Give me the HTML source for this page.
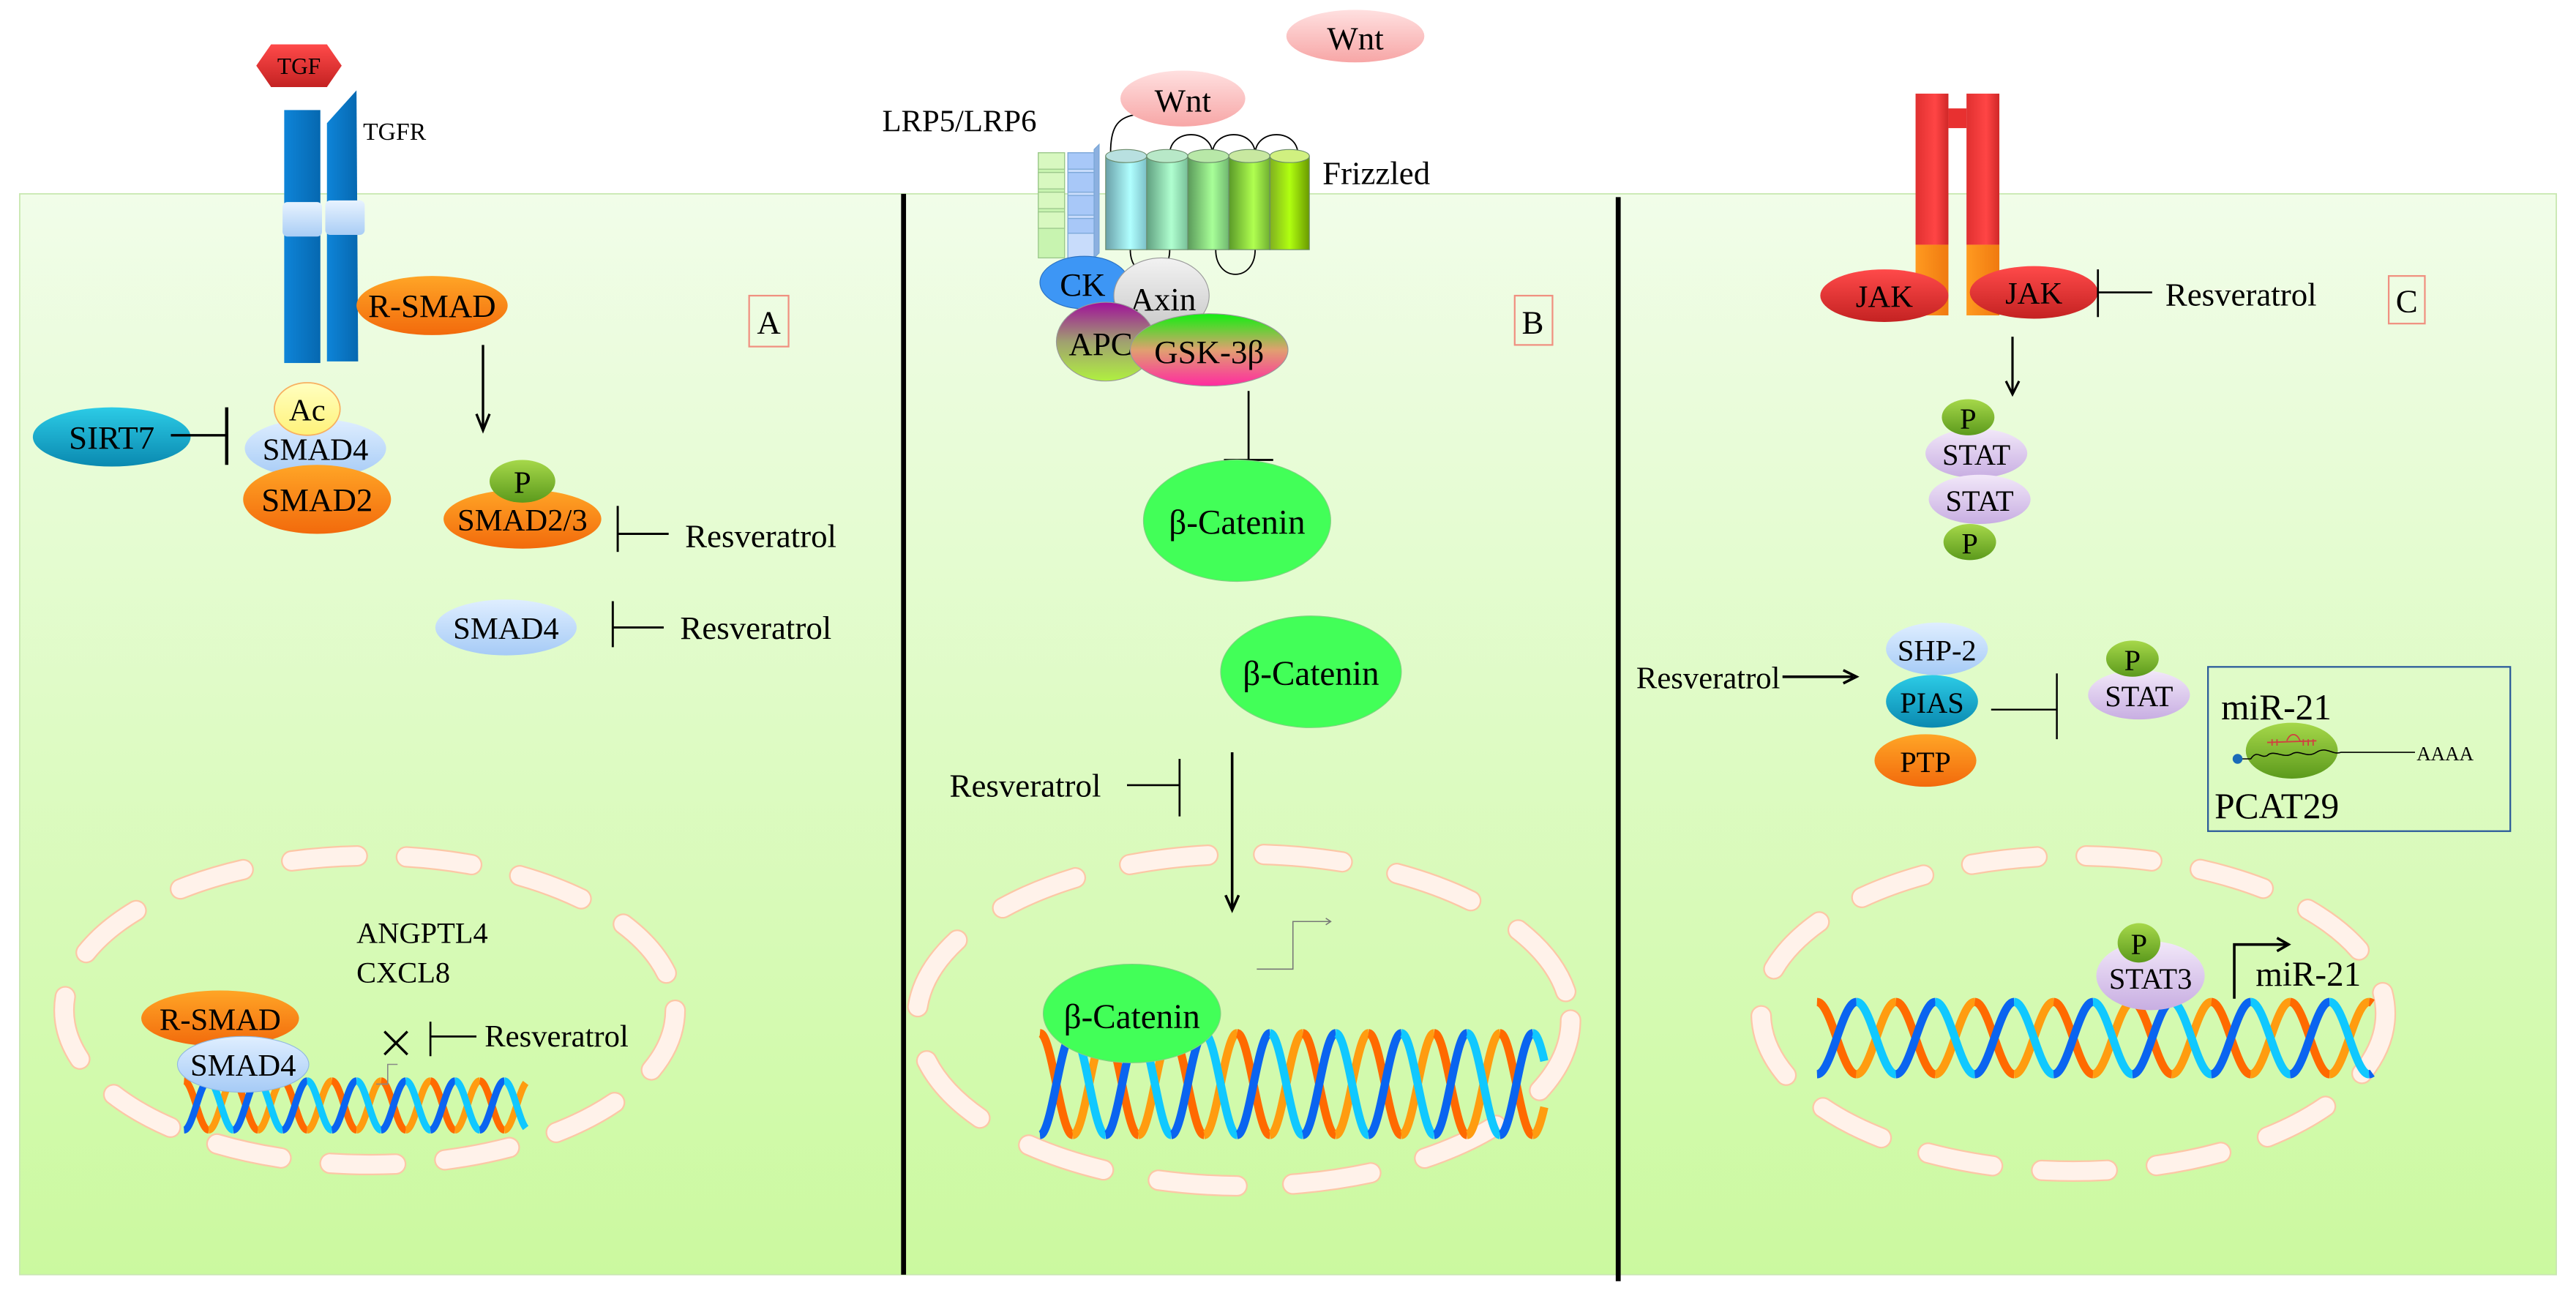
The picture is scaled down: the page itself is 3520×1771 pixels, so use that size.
<!DOCTYPE html>
<html><head><meta charset="utf-8"><style>
html,body{margin:0;padding:0;background:#fff;}
svg{display:block;}
text{font-family:"Liberation Serif",serif;fill:#000;}
</style></head><body>
<svg id="s" width="3520" height="1771" viewBox="0 0 1568 789" preserveAspectRatio="none" xmlns="http://www.w3.org/2000/svg">
<defs>
<linearGradient id="bg" x1="0" y1="0" x2="0" y2="1"><stop offset="0" stop-color="#f1fde9"/><stop offset="1" stop-color="#cbf99f"/></linearGradient>
<linearGradient id="or" x1="0" y1="0" x2="0" y2="1"><stop offset="0" stop-color="#ffa526"/><stop offset="1" stop-color="#f26a0c"/></linearGradient>
<linearGradient id="lb" x1="0" y1="0" x2="0" y2="1"><stop offset="0" stop-color="#dfeeff"/><stop offset="1" stop-color="#a6cbf6"/></linearGradient>
<linearGradient id="gp" x1="0" y1="0" x2="0" y2="1"><stop offset="0" stop-color="#a6d84a"/><stop offset="1" stop-color="#5c9a1c"/></linearGradient>
<linearGradient id="lv" x1="0" y1="0" x2="0" y2="1"><stop offset="0" stop-color="#f2e8f9"/><stop offset="1" stop-color="#c8aee2"/></linearGradient>
<linearGradient id="rd" x1="0" y1="0" x2="0" y2="1"><stop offset="0" stop-color="#ff4a4a"/><stop offset="1" stop-color="#c42222"/></linearGradient>
<linearGradient id="tl" x1="0" y1="0" x2="0" y2="1"><stop offset="0" stop-color="#2ccbe6"/><stop offset="1" stop-color="#0a89b0"/></linearGradient>
<linearGradient id="yl" x1="0" y1="0" x2="0" y2="1"><stop offset="0" stop-color="#ffffc0"/><stop offset="1" stop-color="#fff27a"/></linearGradient>
<linearGradient id="pk" x1="0" y1="0" x2="0" y2="1"><stop offset="0" stop-color="#ffe0e0"/><stop offset="1" stop-color="#f7a6a6"/></linearGradient>
<linearGradient id="ax" x1="0" y1="0" x2="0" y2="1"><stop offset="0" stop-color="#f2f2f2"/><stop offset="1" stop-color="#c8c8c8"/></linearGradient>
<linearGradient id="apc" x1="0" y1="0" x2="0" y2="1"><stop offset="0" stop-color="#a0109a"/><stop offset="0.5" stop-color="#a0a070"/><stop offset="1" stop-color="#b0f040"/></linearGradient>
<linearGradient id="gsk" x1="0" y1="0" x2="0" y2="1"><stop offset="0" stop-color="#10f010"/><stop offset="0.5" stop-color="#e0a070"/><stop offset="1" stop-color="#ff2aa0"/></linearGradient>
<linearGradient id="tb" x1="0" y1="0" x2="1" y2="0"><stop offset="0" stop-color="#0e84d8"/><stop offset="1" stop-color="#0668b0"/></linearGradient>
<linearGradient id="cy" x1="0" y1="0" x2="0" y2="1"><stop offset="0" stop-color="#e8f3ff"/><stop offset="1" stop-color="#a9cdf5"/></linearGradient>
<linearGradient id="c1" x1="0" y1="0" x2="1" y2="0"><stop offset="0" stop-color="#6aa0a8"/><stop offset="0.6" stop-color="#b0ffff"/><stop offset="1" stop-color="#7cc0c8"/></linearGradient>
<linearGradient id="c2" x1="0" y1="0" x2="1" y2="0"><stop offset="0" stop-color="#60a080"/><stop offset="0.6" stop-color="#b0ffd0"/><stop offset="1" stop-color="#78c098"/></linearGradient>
<linearGradient id="c3" x1="0" y1="0" x2="1" y2="0"><stop offset="0" stop-color="#5a9a5a"/><stop offset="0.6" stop-color="#a8ff98"/><stop offset="1" stop-color="#70b870"/></linearGradient>
<linearGradient id="c4" x1="0" y1="0" x2="1" y2="0"><stop offset="0" stop-color="#5a9a28"/><stop offset="0.6" stop-color="#b0ff50"/><stop offset="1" stop-color="#70b030"/></linearGradient>
<linearGradient id="c5" x1="0" y1="0" x2="1" y2="0"><stop offset="0" stop-color="#80b020"/><stop offset="0.5" stop-color="#b0ff10"/><stop offset="1" stop-color="#6a9a00"/></linearGradient>
<linearGradient id="rr" x1="0" y1="0" x2="1" y2="0"><stop offset="0" stop-color="#e03030"/><stop offset="0.6" stop-color="#ff4545"/><stop offset="1" stop-color="#d02828"/></linearGradient>
<linearGradient id="oo" x1="0" y1="0" x2="1" y2="0"><stop offset="0" stop-color="#ff9a20"/><stop offset="1" stop-color="#f07a10"/></linearGradient>
</defs>
<rect x="12" y="118" width="1544" height="658" fill="url(#bg)" stroke="#c8e8b0" stroke-width="0.8"/>
<line x1="550" y1="118" x2="550" y2="776" stroke="#000" stroke-width="3"/>
<line x1="985" y1="120" x2="985" y2="780" stroke="#000" stroke-width="3"/>

<!-- nuclei -->
<g fill="none" stroke-linecap="round">
<ellipse cx="225" cy="615" rx="186" ry="94" stroke="#fcc7a6" stroke-width="13" stroke-dasharray="40 30"/>
<ellipse cx="225" cy="615" rx="186" ry="94" stroke="#fff2ea" stroke-width="11" stroke-dasharray="40 30"/>
<ellipse cx="757" cy="621" rx="199" ry="101" stroke="#fcc7a6" stroke-width="13" stroke-dasharray="48 34"/>
<ellipse cx="757" cy="621" rx="199" ry="101" stroke="#fff2ea" stroke-width="11" stroke-dasharray="48 34"/>
<ellipse cx="1262" cy="617" rx="190" ry="96" stroke="#fcc7a6" stroke-width="13" stroke-dasharray="40 30"/>
<ellipse cx="1262" cy="617" rx="190" ry="96" stroke="#fff2ea" stroke-width="11" stroke-dasharray="40 30"/>
</g>
<g id="dna"></g>

<!-- Panel A -->
<polygon points="156,40 165,27 199,27 208,40 199,53 165,53" fill="url(#rd)"/>
<text x="182" y="45" font-size="14" text-anchor="middle">TGF</text>
<rect x="173" y="67" width="22" height="154" fill="url(#tb)"/>
<polygon points="199,75 217,55 218,220 199,220" fill="url(#tb)"/>
<rect x="172" y="123" width="24" height="21" rx="3" fill="url(#cy)"/>
<rect x="198" y="122" width="24" height="21" rx="3" fill="url(#cy)"/>
<text x="221" y="85" font-size="15">TGFR</text>
<ellipse cx="263" cy="186" rx="46" ry="18" fill="url(#or)"/>
<text x="263" y="193" font-size="20" text-anchor="middle">R-SMAD</text>
<line x1="294" y1="210" x2="294" y2="260" stroke="#000" stroke-width="1.5"/>
<path d="M290,252 L294,262 L298,252" fill="none" stroke="#000" stroke-width="1.5"/>
<rect x="456" y="180" width="24" height="31" fill="none" stroke="#f09080" stroke-width="1"/>
<text x="468" y="203" font-size="20" text-anchor="middle">A</text>
<ellipse cx="68" cy="266" rx="48" ry="18" fill="url(#tl)"/>
<text x="68" y="273" font-size="20" text-anchor="middle">SIRT7</text>
<line x1="104" y1="265" x2="138" y2="265" stroke="#000" stroke-width="1.5"/>
<line x1="138" y1="248" x2="138" y2="283" stroke="#000" stroke-width="2"/>
<ellipse cx="192" cy="273" rx="43" ry="18" fill="url(#lb)"/>
<ellipse cx="187" cy="249" rx="20" ry="16" fill="url(#yl)" stroke="#f8b060" stroke-width="0.8"/>
<text x="187" y="256" font-size="19" text-anchor="middle">Ac</text>
<text x="192" y="280" font-size="19" text-anchor="middle">SMAD4</text>
<ellipse cx="193" cy="304" rx="45" ry="21" fill="url(#or)"/>
<text x="193" y="311" font-size="20" text-anchor="middle">SMAD2</text>
<ellipse cx="318" cy="316" rx="48" ry="18" fill="url(#or)"/>
<ellipse cx="318" cy="293" rx="20" ry="13" fill="url(#gp)"/>
<text x="318" y="300" font-size="19" text-anchor="middle">P</text>
<text x="318" y="323" font-size="19" text-anchor="middle">SMAD2/3</text>
<line x1="376" y1="308" x2="376" y2="336" stroke="#000" stroke-width="1.3"/>
<line x1="376" y1="325" x2="407" y2="325" stroke="#000" stroke-width="1.3"/>
<text x="417" y="333" font-size="20">Resveratrol</text>
<ellipse cx="308" cy="382" rx="43" ry="17" fill="url(#lb)"/>
<text x="308" y="389" font-size="19" text-anchor="middle">SMAD4</text>
<line x1="373" y1="366" x2="373" y2="394" stroke="#000" stroke-width="1.3"/>
<line x1="373" y1="382" x2="404" y2="382" stroke="#000" stroke-width="1.3"/>
<text x="414" y="389" font-size="20">Resveratrol</text>
<text x="217" y="574" font-size="18">ANGPTL4</text>
<text x="217" y="598" font-size="18">CXCL8</text>
<path d="M229,660 L236,660 L236,648 L242,648" fill="none" stroke="#888" stroke-width="0.7"/>
<path d="M234,628 L248,642 M248,628 L234,642" stroke="#000" stroke-width="1.5"/>
<line x1="262" y1="622" x2="262" y2="643" stroke="#000" stroke-width="1.2"/>
<line x1="262" y1="631" x2="290" y2="631" stroke="#000" stroke-width="1.2"/>
<text x="295" y="637" font-size="19">Resveratrol</text>
<ellipse cx="134" cy="620" rx="48" ry="17" fill="url(#or)"/>
<text x="134" y="627" font-size="19" text-anchor="middle">R-SMAD</text>
<ellipse cx="148" cy="648" rx="40" ry="17" fill="url(#lb)" stroke="#90b8e0" stroke-width="0.5"/>
<text x="148" y="655" font-size="19" text-anchor="middle">SMAD4</text>

<!-- Panel B -->
<ellipse cx="825" cy="22" rx="42" ry="16" fill="url(#pk)"/>
<text x="825" y="30" font-size="20" text-anchor="middle">Wnt</text>
<text x="537" y="80" font-size="19">LRP5/LRP6</text>
<path d="M676,93 C676,78 680,72 690,70" fill="none" stroke="#000" stroke-width="0.8"/>
<path d="M712,94 C712,78 738,78 738,94 M738,94 C738,78 764,78 764,94 M764,94 C764,78 790,78 790,94" fill="none" stroke="#000" stroke-width="0.8"/>
<path d="M688,152 C688,172 712,172 712,152 M740,152 C740,172 764,172 764,152" fill="none" stroke="#000" stroke-width="0.8"/>
<ellipse cx="720" cy="60" rx="38" ry="17" fill="url(#pk)"/>
<text x="720" y="68" font-size="20" text-anchor="middle">Wnt</text>
<g stroke="#9cc88c" stroke-width="0.6">
<rect x="632" y="93" width="16" height="64" fill="#c8f4b0"/>
<rect x="632" y="93" width="16" height="10" fill="#d8f8c0"/><rect x="632" y="105" width="16" height="10" fill="#d8f8c0"/><rect x="632" y="117" width="16" height="10" fill="#d8f8c0"/><rect x="632" y="129" width="16" height="10" fill="#d8f8c0"/>
</g>
<g stroke="#7ca8d8" stroke-width="0.6">
<rect x="650" y="93" width="16" height="64" fill="#c8dcfb"/>
<rect x="650" y="93" width="16" height="10" fill="#a8c8f8"/><rect x="650" y="105" width="16" height="12" fill="#a8c8f8"/><rect x="650" y="119" width="16" height="12" fill="#a8c8f8"/><rect x="650" y="133" width="16" height="9" fill="#a8c8f8"/>
<polygon points="666,91 669,88 669,154 666,157" fill="#8cb0e0"/>
</g>
<g stroke="#6a8a6a" stroke-width="0.5">
<rect x="673" y="95" width="25" height="57" fill="url(#c1)"/><ellipse cx="685.5" cy="95" rx="12.5" ry="4" fill="#b8e0e0"/>
<rect x="698" y="95" width="25" height="57" fill="url(#c2)"/><ellipse cx="710.5" cy="95" rx="12.5" ry="4" fill="#b8e8c8"/>
<rect x="723" y="95" width="25" height="57" fill="url(#c3)"/><ellipse cx="735.5" cy="95" rx="12.5" ry="4" fill="#b8e8a8"/>
<rect x="748" y="95" width="25" height="57" fill="url(#c4)"/><ellipse cx="760.5" cy="95" rx="12.5" ry="4" fill="#c8e8a0"/>
<rect x="773" y="95" width="24" height="57" fill="url(#c5)"/><ellipse cx="785" cy="95" rx="12" ry="4" fill="#d0f080"/>
</g>
<text x="805" y="112" font-size="20">Frizzled</text>
<ellipse cx="660" cy="172" rx="27" ry="16" fill="#3d96f5" stroke="#2a70c0" stroke-width="0.5"/>
<text x="659" y="180" font-size="20" text-anchor="middle">CK</text>
<ellipse cx="707" cy="180" rx="29" ry="23" fill="url(#ax)" stroke="#999" stroke-width="0.5"/>
<text x="708" y="189" font-size="20" text-anchor="middle">Axin</text>
<ellipse cx="673" cy="208" rx="30" ry="24" fill="url(#apc)" stroke="#999" stroke-width="0.5"/>
<text x="670" y="216" font-size="20" text-anchor="middle">APC</text>
<ellipse cx="736" cy="213" rx="48" ry="22" fill="url(#gsk)" stroke="#999" stroke-width="0.5"/>
<text x="736" y="221" font-size="20" text-anchor="middle">GSK-3β</text>
<line x1="760" y1="238" x2="760" y2="280" stroke="#000" stroke-width="1.2"/>
<line x1="745" y1="280" x2="775" y2="280" stroke="#000" stroke-width="1.2"/>
<rect x="922" y="180" width="23" height="30" fill="none" stroke="#f09080" stroke-width="1"/>
<text x="933" y="203" font-size="20" text-anchor="middle">B</text>
<ellipse cx="753" cy="317" rx="57" ry="37" fill="#42ff58" stroke="#80d080" stroke-width="0.5"/>
<text x="753" y="325" font-size="21" text-anchor="middle">β-Catenin</text>
<ellipse cx="798" cy="409" rx="55" ry="34" fill="#42ff58" stroke="#80d080" stroke-width="0.5"/>
<text x="798" y="417" font-size="21" text-anchor="middle">β-Catenin</text>
<text x="578" y="485" font-size="20">Resveratrol</text>
<line x1="686" y1="478" x2="718" y2="478" stroke="#000" stroke-width="1.2"/>
<line x1="718" y1="462" x2="718" y2="497" stroke="#000" stroke-width="1.2"/>
<line x1="750" y1="458" x2="750" y2="552" stroke="#000" stroke-width="1.6"/>
<path d="M746,545 L750,554 L754,545" fill="none" stroke="#000" stroke-width="1.6"/>
<path d="M765,590 L787,590 L787,561 L810,561" fill="none" stroke="#777" stroke-width="0.7"/>
<path d="M807,559 L810,561 L807,563" fill="none" stroke="#777" stroke-width="0.7"/>
<ellipse cx="689" cy="617" rx="54" ry="30" fill="#42ff58" stroke="#80d080" stroke-width="0.5"/>
<text x="689" y="626" font-size="21" text-anchor="middle">β-Catenin</text>

<!-- Panel C -->
<rect x="1166" y="57" width="20" height="92" fill="url(#rr)"/>
<rect x="1197" y="57" width="20" height="92" fill="url(#rr)"/>
<rect x="1186" y="66" width="11" height="12" fill="#e83030"/>
<rect x="1166" y="149" width="20" height="43" fill="url(#oo)"/>
<rect x="1197" y="149" width="20" height="43" fill="url(#oo)"/>
<ellipse cx="1147" cy="180" rx="39" ry="16" fill="url(#rd)"/>
<text x="1147" y="187" font-size="19" text-anchor="middle">JAK</text>
<ellipse cx="1238" cy="178" rx="39" ry="16" fill="url(#rd)"/>
<text x="1238" y="185" font-size="19" text-anchor="middle">JAK</text>
<line x1="1277" y1="164" x2="1277" y2="193" stroke="#000" stroke-width="1.2"/>
<line x1="1277" y1="178" x2="1310" y2="178" stroke="#000" stroke-width="1.2"/>
<text x="1318" y="186" font-size="20">Resveratrol</text>
<rect x="1454" y="168" width="22" height="29" fill="none" stroke="#f09080" stroke-width="1"/>
<text x="1465" y="190" font-size="20" text-anchor="middle">C</text>
<line x1="1225" y1="205" x2="1225" y2="239" stroke="#000" stroke-width="1.4"/>
<path d="M1221,232 L1225,240 L1229,232" fill="none" stroke="#000" stroke-width="1.4"/>
<ellipse cx="1203" cy="276" rx="31" ry="15" fill="url(#lv)"/>
<ellipse cx="1198" cy="254" rx="16" ry="11" fill="url(#gp)"/>
<text x="1198" y="261" font-size="18" text-anchor="middle">P</text>
<text x="1203" y="283" font-size="18" text-anchor="middle">STAT</text>
<ellipse cx="1205" cy="304" rx="31" ry="15" fill="url(#lv)"/>
<text x="1205" y="311" font-size="18" text-anchor="middle">STAT</text>
<ellipse cx="1199" cy="330" rx="16" ry="11" fill="url(#gp)"/>
<text x="1199" y="337" font-size="18" text-anchor="middle">P</text>
<text x="996" y="419" font-size="19">Resveratrol</text>
<line x1="1085" y1="412" x2="1128" y2="412" stroke="#000" stroke-width="1.6"/>
<path d="M1122,408 L1130,412 L1122,416" fill="none" stroke="#000" stroke-width="1.6"/>
<ellipse cx="1179" cy="395" rx="31" ry="16" fill="url(#lb)"/>
<text x="1179" y="402" font-size="18" text-anchor="middle">SHP-2</text>
<ellipse cx="1176" cy="427" rx="28" ry="16" fill="url(#tl)"/>
<text x="1176" y="434" font-size="18" text-anchor="middle">PIAS</text>
<ellipse cx="1172" cy="463" rx="31" ry="16" fill="url(#or)"/>
<text x="1172" y="470" font-size="18" text-anchor="middle">PTP</text>
<line x1="1212" y1="432" x2="1252" y2="432" stroke="#000" stroke-width="1.1"/>
<line x1="1252" y1="410" x2="1252" y2="450" stroke="#000" stroke-width="1.1"/>
<ellipse cx="1302" cy="423" rx="31" ry="15" fill="url(#lv)"/>
<ellipse cx="1298" cy="401" rx="16" ry="11" fill="url(#gp)"/>
<text x="1298" y="408" font-size="18" text-anchor="middle">P</text>
<text x="1302" y="430" font-size="18" text-anchor="middle">STAT</text>
<rect x="1344" y="406" width="184" height="100" fill="none" stroke="#2a5a9a" stroke-width="1"/>
<text x="1352" y="438" font-size="22">miR-21</text>
<ellipse cx="1395" cy="457" rx="28" ry="17" fill="url(#gp)"/>
<path d="M1362,462 L1370,462 C1374,456 1376,462 1380,460 C1384,456 1390,462 1395,459 C1400,456 1404,462 1410,458 C1416,454 1420,460 1425,458 L1470,458" fill="none" stroke="#000" stroke-width="0.7"/>
<path d="M1380,452 L1410,451 M1383,450 L1383,454 M1386,450 L1386,454 M1392,451 C1394,446 1398,446 1400,451 M1402,450 L1402,454 M1405,450 L1405,454 M1408,450 L1408,454" stroke="#d04040" stroke-width="0.8" fill="none"/>
<circle cx="1362" cy="462" r="3" fill="#1a6ab8"/>
<text x="1471" y="463" font-size="12">AAAA</text>
<text x="1348" y="498" font-size="22">PCAT29</text>
<path d="M1360,608 L1360,575 L1392,575" fill="none" stroke="#000" stroke-width="1.6"/>
<path d="M1386,571 L1393,575 L1386,579" fill="none" stroke="#000" stroke-width="1.6"/>
<text x="1373" y="600" font-size="21">miR-21</text>
<ellipse cx="1309" cy="594" rx="33" ry="21" fill="url(#lv)"/>
<ellipse cx="1302" cy="574" rx="13" ry="12" fill="url(#gp)"/>
<text x="1302" y="581" font-size="18" text-anchor="middle">P</text>
<text x="1309" y="602" font-size="18" text-anchor="middle">STAT3</text>
</svg>
<script>
(function(){
var g=document.getElementById('dna');
var ns='http://www.w3.org/2000/svg';
function dna(x0,x1,y0,y1,P,w){
 var cy=(y0+y1)/2,A=(y1-y0)/2-2;
 var cols=[['#ff6a00','#ff9c10'],['#0a64f0','#10c8ff']];
 for(var s=0;s<2;s++){
  var ph=s*Math.PI;
  var n=Math.ceil((x1-x0)/(P/2));
  for(var i=0;i<n;i++){
   var a=x0+i*P/2,b=Math.min(x1,a+P/2),d='';
   for(var x=a;x<=b+0.01;x+=0.25){
    var t=2*Math.PI*(x-x0)/P+ph;
    var y=cy-A*Math.cos(t);
    d+=(d?'L':'M')+x.toFixed(2)+','+y.toFixed(2);
   }
   var p=document.createElementNS(ns,'path');
   p.setAttribute('d',d);p.setAttribute('fill','none');
   p.setAttribute('stroke',cols[s][i%2]);p.setAttribute('stroke-width',w);
   g.appendChild(p);
  }
 }
}
dna(112,320,656,690,30,4.2);
dna(633,940,627,693,40,5);
dna(1106,1444,608,656,48,5);
})();
</script>
</body></html>
